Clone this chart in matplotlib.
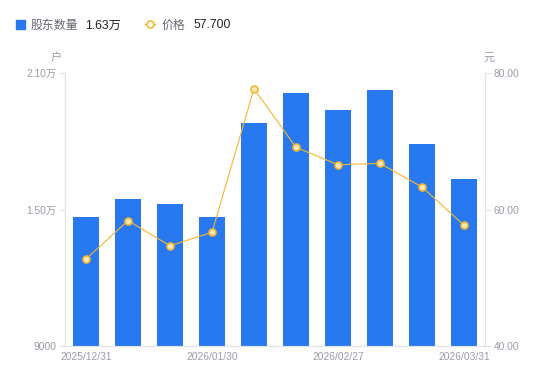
import numpy as np
import matplotlib
matplotlib.use('Agg')
import matplotlib.pyplot as plt
from matplotlib.patches import Rectangle
from matplotlib.lines import Line2D
from matplotlib.ticker import FuncFormatter

plt.rcParams['font.family'] = ['Liberation Sans', 'Noto Sans CJK SC', 'DejaVu Sans']

# data
dates = ['2025/12/31', '2026/01/09', '2026/01/20', '2026/01/30', '2026/02/10',
         '2026/02/13', '2026/02/27', '2026/03/10', '2026/03/20', '2026/03/31']
holders = [14670, 15460, 15230, 14670, 18790, 20140, 19360, 20240, 17870, 16330]
price = [52.75, 58.36, 54.69, 56.65, 77.70, 69.10, 66.56, 66.76, 63.29, 57.70]

blue = '#2878f0'
orange = '#f5b631'
grey = '#9a9da6'
axcol = '#e0e2e6'

fig = plt.figure(figsize=(5.5, 3.81), dpi=100)
ax = fig.add_axes([65/550, 35/381, 420/550, 273/381])
ax2 = ax.twinx()

x = np.arange(len(dates))
ax.bar(x, holders, width=0.6, color=blue, zorder=2)
ax2.plot(x, price, color=orange, lw=0.8, marker='o', ms=5,
         mfc='#fde9b8', mec=orange, mew=1.2, zorder=3)

ax.set_xlim(-0.5, len(dates) - 0.5)
ax.set_ylim(9000, 21000)
ax.set_yticks([9000, 15000, 21000])
ax2.set_ylim(40, 80)
ax2.set_yticks([40, 60, 80])

def wan(v, pos):
    if v >= 10000:
        return '%.2f万' % (v / 10000)
    return '%d' % v

ax.yaxis.set_major_formatter(FuncFormatter(wan))
ax2.yaxis.set_major_formatter(FuncFormatter(lambda v, p: '%.2f' % v))

ax.set_xticks(x[::3])
ax.set_xticklabels(dates[::3])

for a in (ax, ax2):
    for s in a.spines.values():
        s.set_color(axcol)
        s.set_linewidth(0.8)
    a.spines['top'].set_visible(False)
    a.tick_params(colors=grey, labelsize=7.4, length=4, width=0.8)
    a.tick_params(axis='y', colors=axcol, labelcolor=grey, pad=2)
ax.tick_params(axis='x', length=0, pad=4)
ax.set_zorder(ax2.get_zorder() - 1)
ax2.patch.set_visible(False)
ax.patch.set_visible(False)

fig.text(62/550, 1 - 58/381, '户', color=grey, fontsize=8, ha='right', va='center')
fig.text(484/550, 1 - 58/381, '元', color=grey, fontsize=8, ha='left', va='center')

# legend row
ly = 1 - 24/381
ty = 1 - 25.5/381
fig.add_artist(Rectangle((16/550, ly - 4.5/381), 9/550, 9/381,
                         transform=fig.transFigure, color=blue))
fig.text(31/550, ty, '股东数量', color='#666a73', fontsize=8.6, va='center')
fig.text(85/550, ty, '1.63万', color='#222222', fontsize=8.8, va='center')
fig.add_artist(Line2D([145/550, 155/550], [ly, ly], transform=fig.transFigure,
                      color=orange, lw=1))
fig.add_artist(Line2D([150/550], [ly], transform=fig.transFigure, color=orange,
                      marker='o', ms=5, mfc='white', mec=orange, mew=1.2))
fig.text(162/550, ty, '价格', color='#666a73', fontsize=8.6, va='center')
fig.text(193/550, ty, '57.700', color='#222222', fontsize=8.8, va='center')

fig.savefig('out.png', dpi=100)
